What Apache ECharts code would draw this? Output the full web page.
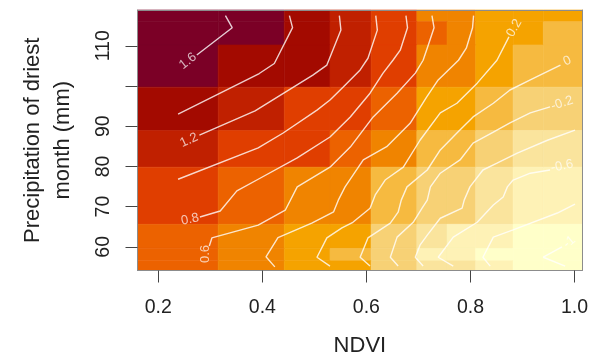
<!DOCTYPE html>
<html><head><meta charset="utf-8">
<script src="https://cdn.jsdelivr.net/npm/echarts@6/dist/echarts.min.js"></script>
<style>html,body{margin:0;padding:0;background:#fff}#c{width:590px;height:362px}</style>
</head><body><div id="c"></div>
<script>
// cell edges (NDVI) left->right
const xBounds = [0.160,0.315,0.442,0.530,0.609,0.697,0.755,0.810,0.882,0.940,1.015];
// cell edges (mm) top->bottom
const yBounds = [118.9,116.0,110.2,99.7,88.9,79.8,65.6,59.6,56.5,54.1];
// colour level of each cell, rows top->bottom
const cellLevels = [
  [0,0,1,2,3,5,5,6,6,6],
  [0,0,1,2,3,4,5,6,6,7],
  [0,1,1,2,3,5,5,6,7,7],
  [1,2,3,3,4,6,6,7,8,8],
  [2,3,3,4,5,7,7,8,9,9],
  [3,4,5,5,7,8,8,9,10,10],
  [4,5,6,6,8,9,10,10,11,11],
  [4,5,6,7,8,10,10,11,11,11],
  [4,5,6,6,8,9,9,10,11,11]
];
const xTicks = [0.2,0.4,0.6,0.8,1.0];
const yTicks = [60,70,80,90,100,110];
const yTickLabels = [60,70,80,90,110];

// contour lines [NDVI, mm]
const c16 = [[0.329,117.5],[0.342,114.5],[0.274,107.7]];
const c14 = [[0.452,117.5],[0.458,114.5],[0.423,105.6],[0.394,103.1],[0.238,93.0]];
const c12 = [[0.548,117.5],[0.551,113.9],[0.524,105.2],[0.497,102.7],[0.386,93.8],[0.279,87.8]];
const c10 = [[0.618,117.5],[0.621,113.9],[0.603,106.9],[0.588,104.0],[0.555,99.7],[0.530,96.5],[0.505,94.0],[0.440,88.3],[0.392,84.6],[0.238,76.8]];
const c08 = [[0.676,117.5],[0.679,114.5],[0.665,108.9],[0.651,106.4],[0.632,103.2],[0.607,98.2],[0.569,92.3],[0.530,87.3],[0.467,82.1],[0.392,76.8],[0.351,73.9],[0.319,68.9],[0.280,67.4]];
const c06 = [[0.726,117.5],[0.730,114.5],[0.719,110.2],[0.709,106.4],[0.694,103.2],[0.659,98.2],[0.613,92.3],[0.569,84.8],[0.530,79.8],[0.467,74.9],[0.444,69.1],[0.392,65.4],[0.303,62.2],[0.298,60.2]];
const c04 = [[0.806,117.5],[0.804,114.5],[0.792,109.4],[0.777,106.4],[0.738,101.5],[0.716,97.3],[0.684,90.7],[0.639,84.9],[0.594,81.6],[0.559,74.9],[0.546,71.6],[0.537,68.7],[0.495,65.9],[0.430,62.3],[0.407,57.5],[0.424,55.0]];
const c02 = [[0.874,112.2],[0.851,106.4],[0.813,100.7],[0.774,95.7],[0.742,93.3],[0.703,86.5],[0.671,79.8],[0.636,76.6],[0.617,72.9],[0.607,69.6],[0.574,66.1],[0.553,64.7],[0.524,62.2],[0.505,57.4],[0.530,55.2]];
const c00 = [[0.973,105.2],[0.915,101.5],[0.876,99.0],[0.844,95.7],[0.805,92.3],[0.774,88.3],[0.742,84.1],[0.717,79.1],[0.678,74.9],[0.667,71.6],[0.661,68.6],[0.646,65.9],[0.603,62.2],[0.588,57.4],[0.607,55.2]];
const cm02 = [[0.953,94.8],[0.915,93.3],[0.876,90.8],[0.844,88.5],[0.805,85.8],[0.780,81.6],[0.742,78.3],[0.723,74.9],[0.717,71.6],[0.707,69.6],[0.690,66.1],[0.659,62.4],[0.646,57.4],[0.661,55.2]];
const cm04 = [[1.001,89.0],[0.948,86.5],[0.890,83.3],[0.851,80.8],[0.824,79.1],[0.799,74.9],[0.788,71.6],[0.784,69.6],[0.742,67.1],[0.717,62.9],[0.703,60.4],[0.694,57.4],[0.709,55.2]];
const cm06 = [[0.953,79.1],[0.915,78.3],[0.882,76.6],[0.871,74.9],[0.863,72.4],[0.844,70.4],[0.813,66.1],[0.767,62.4],[0.738,57.4],[0.767,55.2]];
const cm08 = [[1.001,70.6],[0.967,68.4],[0.882,64.2],[0.844,62.4],[0.824,57.4],[0.838,55.2]];
const cm10 = [[0.976,60.0],[0.940,57.4],[0.982,55.2]];

// contour labels: text and position [NDVI, mm]
const labelTexts = ['1.6','1.2','0.8','0.6','0.2','0','-0.2','-0.6','-1'];
const labelPos = [[0.257,106.2],[0.259,86.5],[0.261,66.8],[0.291,58.2],[0.884,114.4],[0.986,106.2],[0.976,95.7],[0.976,80.1],[0.990,61.2]];
const labelAngle = [38,25,12,90,60,25,18,12,40];

const palette = ['#7b0026','#a30a00','#c02000','#e03e00','#ec6200','#f08400','#f5a300','#f6ba40','#f7d175','#fae49d','#fef2b6','#ffffc9'];
const fontFam = 'Liberation Sans, Arial, sans-serif';

const cells = [];
for (let r = 0; r < cellLevels.length; r++) {
  for (let c = 0; c < cellLevels[r].length; c++) {
    cells.push([xBounds[c], xBounds[c+1], yBounds[r+1], yBounds[r], cellLevels[r][c]]);
  }
}

const lineStyle = {color:'rgba(255,255,255,0.8)', width:1.4};
const contourSeries = [c16,c14,c12,c10,c08,c06,c04,c02,c00,cm02,cm04,cm06,cm08,cm10].map(d => ({
  type:'line', data:d, showSymbol:false, symbol:'none', lineStyle:lineStyle, silent:true, z:5, animation:false
}));

const chart = echarts.init(document.getElementById('c'), null, {renderer:'canvas'});
chart.setOption({
  animation:false,
  grid:{left:137.5, right:7.7, top:10, bottom:91.5, outerBoundsMode:'none', containLabel:false},
  visualMap:{show:false, type:'continuous', dimension:4, seriesIndex:0, min:0, max:11, inRange:{color:palette}},
  xAxis:[{
    type:'value', min:0.16, max:1.015, position:'bottom', z:10,
    axisLine:{show:true, onZero:false, lineStyle:{color:'#8c8c8c', width:1}},
    splitLine:{show:false},
    axisTick:{show:true, length:12, customValues:xTicks, lineStyle:{color:'#444'}},
    axisLabel:{customValues:xTicks, formatter:v=>Number(v).toFixed(1), fontSize:19.5, color:'#222', margin:27, fontFamily:fontFam},
    name:'NDVI', nameLocation:'middle', nameGap:64,
    nameTextStyle:{fontSize:22, color:'#222', fontFamily:fontFam}
  },{
    type:'value', min:0.16, max:1.015, position:'top', z:10,
    axisLine:{show:true, onZero:false, lineStyle:{color:'#8c8c8c', width:1}},
    splitLine:{show:false}, axisTick:{show:false}, axisLabel:{show:false}
  }],
  yAxis:[{
    type:'value', min:54.1, max:118.9, position:'left', z:10,
    axisLine:{show:true, onZero:false, lineStyle:{color:'#8c8c8c', width:1}},
    splitLine:{show:false},
    axisTick:{show:true, length:12, customValues:yTicks, lineStyle:{color:'#444'}},
    axisLabel:{customValues:yTickLabels, rotate:90, fontSize:19.5, color:'#222', margin:24, fontFamily:fontFam},
    name:'Precipitation of driest\nmonth (mm)', nameLocation:'middle', nameGap:60,
    nameTextStyle:{fontSize:22, color:'#222', fontFamily:fontFam, lineHeight:30}
  },{
    type:'value', min:54.1, max:118.9, position:'right', z:10,
    axisLine:{show:true, onZero:false, lineStyle:{color:'#8c8c8c', width:1}},
    splitLine:{show:false}, axisTick:{show:false}, axisLabel:{show:false}
  }],
  series:[{
    type:'custom', data:cells, encode:{x:[0,1], y:[2,3]}, silent:true, animation:false, z:1,
    renderItem:function(params, api){
      const p0 = api.coord([api.value(0), api.value(3)]);
      const p1 = api.coord([api.value(1), api.value(2)]);
      const col = api.visual('color');
      return {type:'rect', shape:{x:p0[0], y:p0[1], width:p1[0]-p0[0], height:p1[1]-p0[1]},
        style:{fill:col, stroke:col, lineWidth:0.6}};
    }
  }].concat(contourSeries).concat([{
    type:'scatter', symbolSize:0, silent:true, z:6, animation:false,
    data: labelPos.map((p,i)=>({value:p, label:{show:true, formatter:labelTexts[i], rotate:labelAngle[i]}})),
    label:{show:true, position:'inside', color:'rgba(255,255,255,0.88)', fontSize:13, fontFamily:fontFam}
  }])
});
</script></body></html>
